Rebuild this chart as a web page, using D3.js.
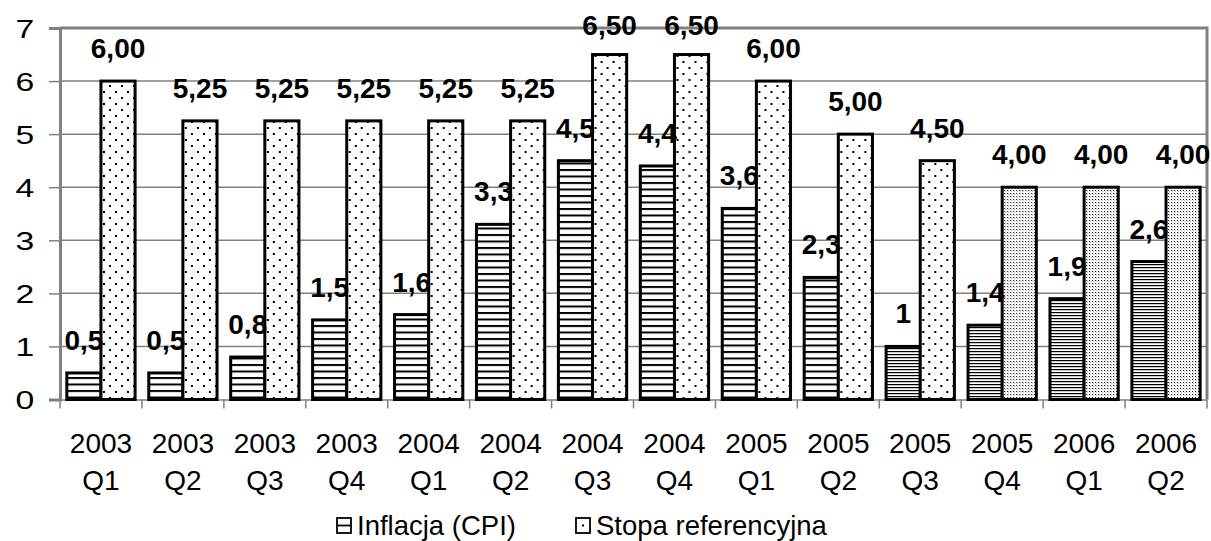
<!DOCTYPE html>
<html>
<head>
<meta charset="utf-8">
<script src="https://cdn.jsdelivr.net/npm/d3@7"></script>
<style>
  html, body { margin: 0; padding: 0; background: #fff; }
  svg { display: block; }
  text { font-family: "Liberation Sans", Arial, sans-serif; }
</style>
</head>
<body>
<svg id="chart" width="1211" height="541"></svg>
<script>
// Quarterly inflation (CPI) and the NBP reference rate, 2003–2006
const years    = ["2003", "2003", "2003", "2003", "2004", "2004", "2004", "2004", "2005", "2005", "2005", "2005", "2006", "2006"];
const quarters = ["Q1", "Q2", "Q3", "Q4", "Q1", "Q2", "Q3", "Q4", "Q1", "Q2", "Q3", "Q4", "Q1", "Q2"];
const inflation = [0.5, 0.5, 0.8, 1.5, 1.6, 3.3, 4.5, 4.4, 3.6, 2.3, 1.0, 1.4, 1.9, 2.6];
const refRate   = [6.00, 5.25, 5.25, 5.25, 5.25, 5.25, 6.50, 6.50, 6.00, 5.00, 4.50, 4.00, 4.00, 4.00];
const seriesNames = ["Inflacja (CPI)", "Stopa referencyjna"];
const yTicks = [0, 1, 2, 3, 4, 5, 6, 7];

const categories = years.map((y, i) => y + " " + quarters[i]);
const rows = categories.map((c, i) => ({ cat: c, i, values: [inflation[i], refRate[i]] }));

const svg = d3.select("#chart");
const plot = { left: 60, right: 1207, top: 28, bottom: 399.5 };

const x = d3.scaleBand().domain(categories).range([plot.left, plot.right]).padding(0);
const xSub = d3.scaleBand().domain([0, 1]).range([0, x.bandwidth()])
  .paddingInner(0).paddingOuter(0.2);
const y = d3.scaleLinear().domain([0, 7]).range([plot.bottom, plot.top]);

// fill patterns
const defs = svg.append("defs");
function linesPattern(id, step, thick) {
  const p = defs.append("pattern").attr("id", id).attr("patternUnits", "userSpaceOnUse")
    .attr("width", 8).attr("height", step);
  p.append("rect").attr("width", 8).attr("height", step).attr("fill", "#fff");
  p.append("rect").attr("y", 0).attr("width", 8).attr("height", thick).attr("fill", "#000");
}
function dotsPattern(id, size, dot, bg) {
  const p = defs.append("pattern").attr("id", id).attr("patternUnits", "userSpaceOnUse")
    .attr("width", size).attr("height", size);
  p.append("rect").attr("width", size).attr("height", size).attr("fill", bg);
  p.append("rect").attr("x", 1).attr("y", 1).attr("width", dot).attr("height", dot).attr("fill", "#000");
  p.append("rect").attr("x", 1 + size / 2).attr("y", 1 + size / 2).attr("width", dot).attr("height", dot).attr("fill", "#000");
}
linesPattern("hlines", 6.5, 2);
linesPattern("hlinesDense", 3, 1.2);
dotsPattern("dots", 12, 2, "#fff");
dotsPattern("dotsDense", 3, 1, "#fff");

// gridlines
svg.append("g").selectAll("line").data(yTicks.filter(t => t > 0 && t < 7)).join("line")
  .attr("x1", plot.left).attr("x2", plot.right)
  .attr("y1", d => y(d)).attr("y2", d => y(d))
  .attr("stroke", "#808080").attr("stroke-width", 1.5);

// plot frame (top and right)
svg.append("path")
  .attr("d", `M${plot.left},${y(7)}H${plot.right}V${plot.bottom}`)
  .attr("fill", "none").attr("stroke", "#808080").attr("stroke-width", 3);

// y axis
const yAxis = svg.append("g").attr("transform", `translate(${plot.left},0)`)
  .call(d3.axisLeft(y).tickValues(yTicks).tickSize(11).tickPadding(0).tickFormat(d3.format("d")));
yAxis.select(".domain").attr("stroke", "#808080").attr("stroke-width", 3);
yAxis.selectAll(".tick line").attr("stroke", "#808080").attr("stroke-width", 1.5);
yAxis.selectAll(".tick text")
  .attr("font-size", 25).attr("fill", "#000").attr("x", 0).attr("dy", "0.36em")
  .attr("font-family", "'Liberation Sans', Arial, sans-serif")
  .attr("text-anchor", "middle")
  .attr("transform", "translate(-35,0) scale(1.35,1)");

// x axis
const xAxis = svg.append("g").attr("transform", `translate(0,${plot.bottom})`)
  .call(d3.axisBottom(x).tickSize(0).tickFormat(""));
xAxis.select(".domain").attr("stroke", "#808080").attr("stroke-width", 1.5);
svg.append("g").selectAll("line").data(d3.range(categories.length + 1)).join("line")
  .attr("x1", i => plot.left + i * x.bandwidth()).attr("x2", i => plot.left + i * x.bandwidth())
  .attr("y1", plot.bottom).attr("y2", plot.bottom + 9)
  .attr("stroke", "#808080").attr("stroke-width", 1.5);

const catLabels = svg.append("g").selectAll("text").data(rows).join("text")
  .attr("text-anchor", "middle").attr("font-size", 28).attr("fill", "#000")
  .attr("transform", d => `translate(${x(d.cat) + x.bandwidth() / 2},0)`);
catLabels.append("tspan").attr("x", 0).attr("y", 453).text(d => years[d.i]);
catLabels.append("tspan").attr("x", 0).attr("y", 490).text(d => quarters[d.i]);

// bars
const fills = (s, i) => s === 0 ? (i >= 10 ? "url(#hlinesDense)" : "url(#hlines)")
                                : (i >= 11 ? "url(#dotsDense)" : "url(#dots)");
const groups = svg.append("g").selectAll("g").data(rows).join("g")
  .attr("transform", d => `translate(${x(d.cat)},0)`);
groups.selectAll("rect").data(d => d.values.map((v, s) => ({ v, s, i: d.i }))).join("rect")
  .attr("x", d => xSub(d.s)).attr("width", xSub.bandwidth())
  .attr("y", d => y(d.v)).attr("height", d => y(0) - y(d.v))
  .attr("fill", d => fills(d.s, d.i))
  .attr("stroke", "#000").attr("stroke-width", 3);

// value labels
const fmt = (v, s) => s === 0 ? String(v).replace(".", ",") : v.toFixed(2).replace(".", ",");
groups.selectAll("text").data(d => d.values.map((v, s) => ({ v, s }))).join("text")
  .attr("x", d => xSub(d.s) + xSub.bandwidth() / 2)
  .attr("y", d => Math.max(y(d.v) - 23, 35))
  .attr("text-anchor", "middle").attr("font-size", 28).attr("font-weight", "bold")
  .attr("fill", "#000")
  .text(d => fmt(d.v, d.s));

// legend
const legend = svg.append("g");
const legendItems = [
  { name: seriesNames[0], x: 337 },
  { name: seriesNames[1], x: 576 }
];
legendItems.forEach((it, k) => {
  const g = legend.append("g").attr("transform", `translate(${it.x},518)`);
  g.append("rect").attr("width", 14).attr("height", 15).attr("fill", "#fff")
    .attr("stroke", "#000").attr("stroke-width", 1.8);
  if (k === 0) {
    g.append("line").attr("x1", 0).attr("x2", 14).attr("y1", 7.5).attr("y2", 7.5)
      .attr("stroke", "#000").attr("stroke-width", 1.8);
  } else {
    g.append("rect").attr("x", 6).attr("y", 6.5).attr("width", 2).attr("height", 2).attr("fill", "#000");
  }
  g.append("text").attr("x", 20).attr("y", 17).attr("font-size", 27.5).attr("fill", "#000")
    .text(it.name);
});
</script>
</body>
</html>
